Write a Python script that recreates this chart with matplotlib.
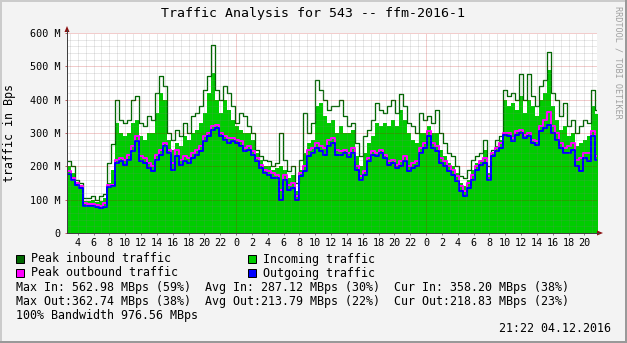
import matplotlib
matplotlib.use("Agg")
import matplotlib.pyplot as plt
from matplotlib.patches import Rectangle, Polygon
from matplotlib.lines import Line2D
import numpy as np

W, H = 627, 343
PX_PER_HOUR = 190 / 24.0
START_H = 2.65            # hours after midnight of the first day
STEP_H = 0.505           # one sample per ~30 min
END_H = START_H + 530 / PX_PER_HOUR

# traffic in M (Bps), one value per sample
peak_in = [
    215, 200, 160, 150, 105, 105, 110, 100, 110, 118,
    210, 268, 400, 340, 330, 340, 400, 410, 330, 320,
    350, 340, 420, 470, 440, 300, 280, 310, 290, 330,
    300, 350, 360, 380, 430, 470, 563, 430, 400, 440,
    420, 380, 330, 360, 350, 320, 300, 250, 230, 220,
    215, 200, 210, 300, 220, 185, 200, 150, 220, 360,
    300, 330, 460, 430, 400, 370, 380, 380, 400, 350,
    320, 330, 270, 230, 290, 310, 340, 390, 370, 360,
    380, 400, 360, 418, 380, 330, 320, 300, 360, 340,
    350, 330, 370, 300, 270, 240, 230, 200, 170, 165,
    190, 220, 230, 240, 280, 200, 250, 280, 290, 430,
    410, 420, 400, 478, 400, 478, 410, 380, 440, 460,
    543, 420, 400, 350, 390, 320, 340, 300, 320, 340,
    330, 430, 370,
]
incoming = [
    200, 180, 150, 140, 95, 95, 100, 92, 95, 105,
    150, 190, 330, 300, 290, 300, 330, 340, 290, 280,
    300, 300, 360, 420, 400, 280, 250, 270, 260, 290,
    280, 300, 310, 330, 360, 420, 480, 400, 360, 400,
    370, 340, 320, 310, 300, 300, 280, 240, 220, 200,
    200, 190, 195, 200, 190, 165, 175, 125, 190, 240,
    270, 280, 380, 390, 350, 330, 340, 300, 320, 300,
    300, 310, 230, 200, 240, 270, 290, 330, 320, 330,
    320, 340, 320, 370, 340, 300, 280, 270, 300, 300,
    320, 300, 300, 250, 230, 210, 200, 180, 150, 140,
    160, 190, 210, 220, 250, 180, 240, 260, 280, 400,
    380, 390, 370, 410, 360, 400, 380, 350, 400, 420,
    490, 380, 340, 310, 320, 290, 300, 260, 270, 280,
    290, 380, 358,
]
peak_out = [
    185, 165, 150, 140, 90, 88, 88, 85, 82, 90,
    145, 145, 220, 225, 220, 235, 260, 290, 230, 225,
    210, 200, 235, 250, 270, 250, 210, 250, 220, 230,
    225, 240, 250, 260, 290, 300, 320, 325, 300, 290,
    285, 285, 280, 275, 255, 260, 245, 225, 205, 190,
    185, 180, 175, 130, 175, 145, 150, 110, 180, 200,
    250, 255, 270, 260, 255, 280, 285, 250, 245, 250,
    240, 255, 200, 170, 185, 225, 245, 240, 250, 235,
    215, 220, 205, 215, 230, 200, 210, 215, 255, 270,
    305, 270, 260, 225, 215, 200, 190, 170, 140, 125,
    150, 175, 200, 215, 225, 170, 240, 255, 270, 300,
    300, 285, 305, 310, 295, 300, 280, 275, 320, 340,
    363, 320, 300, 270, 255, 260, 270, 220, 225, 240,
    240, 305, 230,
]
outgoing = [
    178, 160, 145, 135, 80, 82, 80, 78, 76, 78,
    138, 140, 210, 215, 205, 220, 245, 275, 215, 210,
    195, 185, 220, 235, 260, 240, 190, 230, 205, 215,
    210, 225, 235, 245, 275, 290, 310, 315, 290, 280,
    270, 275, 270, 262, 245, 250, 235, 215, 195, 180,
    175, 165, 165, 100, 160, 130, 135, 98, 170, 185,
    230, 240, 255, 245, 235, 260, 270, 235, 235, 240,
    228, 240, 190, 160, 175, 215, 235, 230, 240, 225,
    205, 210, 195, 200, 215, 185, 195, 200, 240, 255,
    290, 255, 245, 210, 200, 185, 175, 155, 125, 110,
    135, 160, 190, 205, 210, 158, 230, 245, 255, 295,
    290, 275, 295, 300, 285, 290, 270, 265, 305, 315,
    325, 300, 280, 255, 240, 240, 250, 200, 185, 225,
    215, 290, 219,
]

y_ticks = [0, 100, 200, 300, 400, 500, 600]
y_labels = ["0", "100 M", "200 M", "300 M", "400 M", "500 M", "600 M"]

legend_items = [
    ("Peak inbound traffic", "#006600", 16, 259),
    ("Incoming traffic", "#00CC00", 248, 259),
    ("Peak outbound traffic", "#FF00FF", 16, 273),
    ("Outgoing traffic", "#0000FF", 248, 273),
]
stat_lines = [
    "Max In: 562.98 MBps (59%)  Avg In: 287.12 MBps (30%)  Cur In: 358.20 MBps (38%)",
    "Max Out:362.74 MBps (38%)  Avg Out:213.79 MBps (22%)  Cur Out:218.83 MBps (23%)",
    "100% Bandwidth 976.56 MBps",
]
stamp = "21:22 04.12.2016"

PX = 0.72  # one pixel in points at dpi 100
plt.rcParams["font.family"] = "DejaVu Sans Mono"


def fx(x):
    return x / W


def fy(y):
    return 1 - y / H


def steps(vals):
    v = np.asarray(vals, dtype=float)
    t = START_H + STEP_H * np.arange(len(v) + 1)
    return t, np.append(v, v[-1])


fig = plt.figure(figsize=(W / 100, H / 100), dpi=100, facecolor="#F3F3F3")
ax = fig.add_axes([fx(67), fy(233), fx(530), 200 / H])
ax.set_facecolor("white")
for s in ax.spines.values():
    s.set_visible(False)

t, v_in = steps(incoming)
ax.fill_between(t, 0, v_in, step="post", color="#00CC00", lw=0, zorder=2)
t, v = steps(peak_in)
ax.step(t, v, where="post", color="#006600", lw=1.3 * PX, zorder=3)
t, v = steps(peak_out)
ax.step(t, v, where="post", color="#FF00FF", lw=2 * PX, zorder=4)
t, v = steps(outgoing)
ax.step(t, v, where="post", color="#0000FF", lw=2 * PX, zorder=5)

# grid drawn over the data, like rrdtool does
dots = (0, (1, 1))
for yv in range(20, 600, 20):
    if yv % 100:
        ax.axhline(yv, color="#808080", alpha=0.35, lw=PX, ls=dots, zorder=6)
for yv in y_ticks[1:]:
    ax.axhline(yv, color="#C00000", alpha=0.4, lw=PX, ls=dots, zorder=6)
for h in range(3, 70):
    if h % 24:
        ax.axvline(h, color="#808080", alpha=0.35, lw=PX, ls=dots, zorder=6)
    else:
        ax.axvline(h, color="#C00000", alpha=0.4, lw=PX, ls=dots, zorder=6)

ax.set_xlim(START_H, END_H)
ax.set_ylim(0, 600)
xt = list(range(4, 70, 2))
ax.set_xticks(xt)
ax.set_xticklabels([str(h % 24) for h in xt], fontsize=7.3)
ax.set_yticks(y_ticks)
ax.set_yticklabels(y_labels, fontsize=7.3)
ax.tick_params(axis="x", length=2 * PX, width=PX, color="#808080", pad=2.2)
ax.tick_params(axis="y", length=2 * PX, width=PX, color="#C06060", pad=2.9)

# axes with arrow heads
axis_col = "#404040"
fig.add_artist(Line2D([fx(67), fx(67)], [fy(233), fy(30)], color=axis_col, lw=PX))
fig.add_artist(Line2D([fx(67), fx(599)], [fy(233), fy(233)], color=axis_col, lw=PX))
fig.add_artist(Polygon([(fx(64.5), fy(32)), (fx(69.5), fy(32)), (fx(67), fy(26))],
                       closed=True, color="#8B1010", lw=0))
fig.add_artist(Polygon([(fx(597), fy(230.5)), (fx(597), fy(235.5)), (fx(603), fy(233))],
                       closed=True, color="#8B1010", lw=0))

fig.text(fx(313), fy(13), "Traffic Analysis for 543 -- ffm-2016-1",
         ha="center", va="center", fontsize=9.5)
fig.text(fx(10), fy(133), "traffic in Bps", rotation=90,
         ha="center", va="center", fontsize=8.4)
fig.text(fx(618), fy(62), "RRDTOOL / TOBI OETIKER", rotation=270,
         ha="center", va="center", fontsize=6.1, color="#A0A0A0")

for label, col, x0, yc in legend_items:
    fig.add_artist(Rectangle((fx(x0), fy(yc + 4)), fx(8), 8 / H,
                             facecolor=col, edgecolor="black", lw=PX))
    fig.text(fx(x0 + 15), fy(yc), label, ha="left", va="center", fontsize=8.4)

for i, line in enumerate(stat_lines):
    fig.text(fx(16), fy(287 + 14 * i), line, ha="left", va="center", fontsize=8.4)
fig.text(fx(611), fy(329), stamp, ha="right", va="center", fontsize=8.4)

# bevelled frame
fig.add_artist(Line2D([0, 1], [fy(0.5), fy(0.5)], color="#CBCBCB", lw=2 * PX))
fig.add_artist(Line2D([fx(0.5), fx(0.5)], [0, 1], color="#CBCBCB", lw=2 * PX))
fig.add_artist(Line2D([0, 1], [fy(342), fy(342)], color="#999999", lw=2 * PX))
fig.add_artist(Line2D([fx(626), fx(626)], [0, 1], color="#999999", lw=2 * PX))

fig.savefig("out.png", dpi=100, facecolor=fig.get_facecolor())
